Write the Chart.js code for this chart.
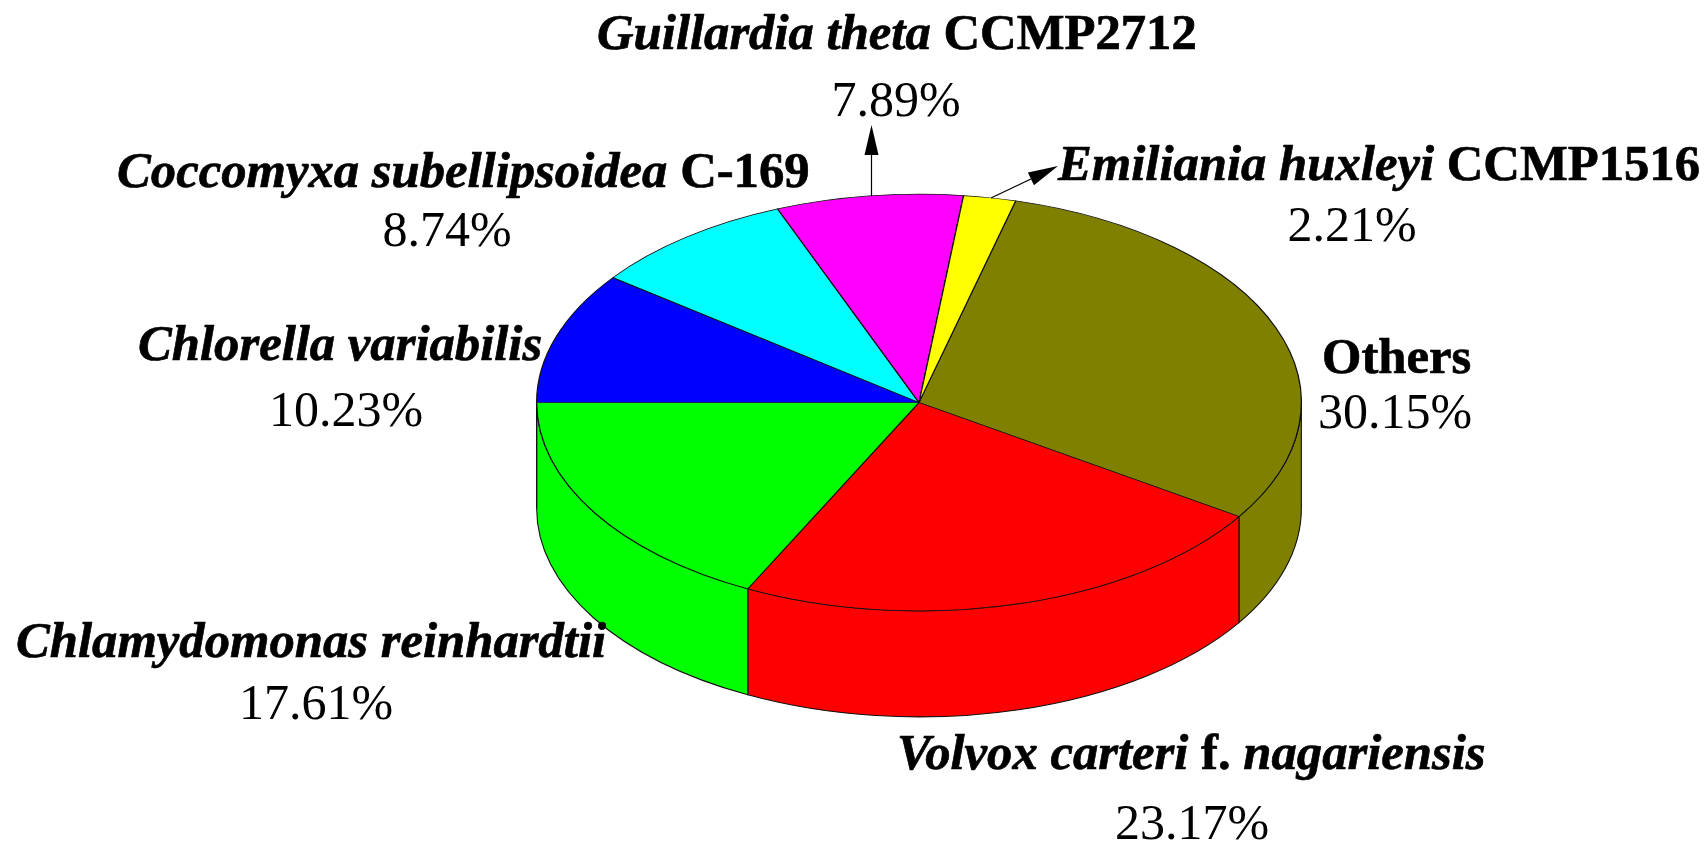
<!DOCTYPE html>
<html>
<head>
<meta charset="utf-8">
<style>
html,body{margin:0;padding:0;background:#fff;overflow:hidden}
canvas{display:block}
</style>
<script src="https://cdn.jsdelivr.net/npm/chart.js@4"></script>
</head>
<body>
<canvas id="c" width="1704" height="846"></canvas>
<script>
const categories = ['Others','Volvox carteri f. nagariensis','Chlamydomonas reinhardtii','Chlorella variabilis','Coccomyxa subellipsoidea C-169','Guillardia theta CCMP2712','Emiliania huxleyi CCMP1516'];
const shares = [30.15,23.17,17.61,10.23,8.74,7.89,2.21];
const colors = ['#808000','#ff0000','#00ff00','#0000ff','#00ffff','#ff00ff','#ffff00'];

// Text runs of each category name: [text, font style]
const nameRuns = [
  [['Others','bold']],
  [['Volvox carteri ','italic bold'],['f. ','bold'],['nagariensis','italic bold']],
  [['Chlamydomonas reinhardtii','italic bold']],
  [['Chlorella variabilis','italic bold']],
  [['Coccomyxa subellipsoidea ','italic bold'],['C-169','bold']],
  [['Guillardia theta ','italic bold'],['CCMP2712','bold']],
  [['Emiliania huxleyi ','italic bold'],['CCMP1516','bold']]
];
// Label placement: name left x, name baseline, percent centre x, percent baseline
const labelPlace = [
  [1322,373,1395,428],
  [897,769,1192,839],
  [16,657,316,719],
  [138,360,346,426],
  [117,187,447,246],
  [597,49,896,116],
  [1058,180,1352,241]
];
const callouts = [
  [[871.5,196],[871.5,125]],
  [[991,198],[1058,166]]
];
const NAME_PX = 50.7, PCT_PX = 50;
const FONT_FAMILY = '"Liberation Serif","Times New Roman",serif';
const TILT = 0.545, DEPTH = 106, CENTER_Y = 402.5;

const pie3d = {
  id:'pie3d',
  beforeDatasetsDraw(chart){
    const ctx = chart.ctx, arcs = chart.getDatasetMeta(0).data;
    const {x:cx, y:cy, outerRadius:r} = arcs[0];
    const ry = r*TILT;
    ctx.save();
    ctx.lineWidth = 1.1;
    ctx.strokeStyle = '#111';
    arcs.forEach((arc,i)=>{
      [-2*Math.PI,0,2*Math.PI].forEach(off=>{
        const a = Math.max(arc.startAngle+off,0), b = Math.min(arc.endAngle+off,Math.PI);
        if(a>=b) return;
        ctx.beginPath();
        ctx.ellipse(cx,CENTER_Y,r,ry,0,a,b,false);
        ctx.ellipse(cx,CENTER_Y+DEPTH,r,ry,0,b,a,true);
        ctx.closePath();
        ctx.fillStyle = colors[i];
        ctx.fill();
        ctx.stroke();
      });
    });
    ctx.restore();
    ctx.save();
    ctx.translate(0,CENTER_Y);
    ctx.scale(1,TILT);
    ctx.translate(0,-cy);
  },
  afterDatasetsDraw(chart){
    chart.ctx.restore();
    const ctx = chart.ctx;
    ctx.save();
    // callout arrows
    callouts.forEach(([from,to])=>{
      const ang = Math.atan2(to[1]-from[1],to[0]-from[0]);
      const L = 30, W = 7;
      ctx.strokeStyle = '#000'; ctx.fillStyle = '#000'; ctx.lineWidth = 1.2;
      ctx.beginPath(); ctx.moveTo(from[0],from[1]);
      ctx.lineTo(to[0]-L*Math.cos(ang),to[1]-L*Math.sin(ang)); ctx.stroke();
      ctx.beginPath(); ctx.moveTo(to[0],to[1]);
      ctx.lineTo(to[0]-L*Math.cos(ang)-W*Math.sin(ang),to[1]-L*Math.sin(ang)+W*Math.cos(ang));
      ctx.lineTo(to[0]-L*Math.cos(ang)+W*Math.sin(ang),to[1]-L*Math.sin(ang)-W*Math.cos(ang));
      ctx.closePath(); ctx.fill();
    });
    // labels
    ctx.fillStyle = '#000';
    ctx.strokeStyle = '#000';
    ctx.lineWidth = 0.7;
    ctx.textBaseline = 'alphabetic';
    categories.forEach((_,i)=>{
      const [nx,ny,px,py] = labelPlace[i];
      let x = nx;
      ctx.textAlign = 'left';
      nameRuns[i].forEach(([t,style])=>{
        ctx.font = style+' '+NAME_PX+'px '+FONT_FAMILY;
        ctx.fillText(t,x,ny);
        ctx.strokeText(t,x,ny);
        x += ctx.measureText(t).width;
      });
      ctx.font = PCT_PX+'px '+FONT_FAMILY;
      ctx.textAlign = 'center';
      ctx.fillText(shares[i].toFixed(2)+'%',px,py);
    });
    ctx.restore();
  }
};

new Chart(document.getElementById('c'),{
  type:'pie',
  data:{labels:categories,datasets:[{data:shares,backgroundColor:colors,borderColor:'#111',borderWidth:1.3,hoverOffset:0}]},
  options:{
    responsive:false,
    animation:false,
    events:[],
    rotation:14.65,
    layout:{padding:{left:536,right:402,top:40,bottom:40}},
    plugins:{legend:{display:false},tooltip:{enabled:false},title:{display:false}}
  },
  plugins:[pie3d]
});
</script>
</body>
</html>
